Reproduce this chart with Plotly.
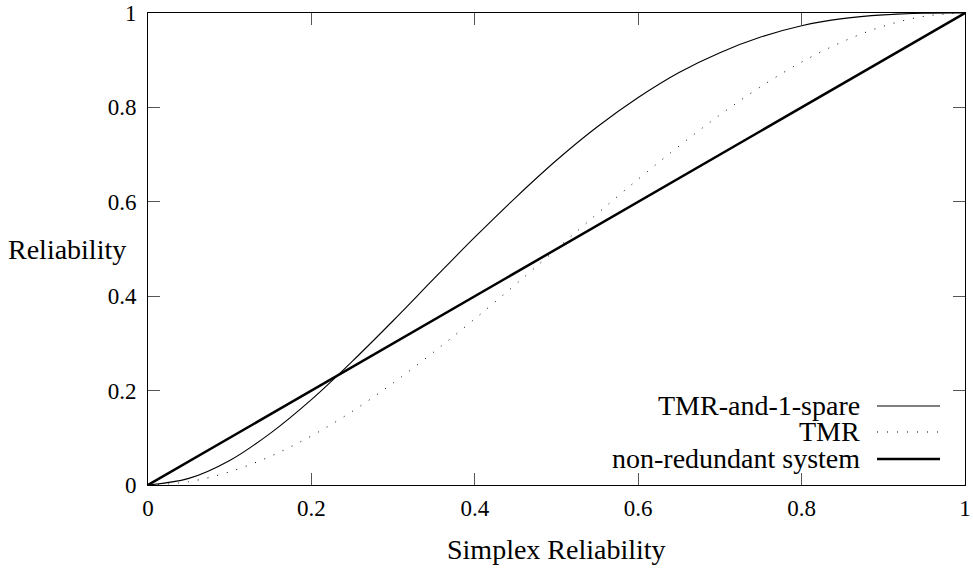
import plotly.graph_objects as go

# Simplex reliability (x) samples
simplex = [0.0, 0.05, 0.1, 0.15, 0.2, 0.25, 0.3, 0.35, 0.4, 0.45, 0.5,
           0.55, 0.6, 0.65, 0.7, 0.75, 0.8, 0.85, 0.9, 0.95, 1.0]
tmr_spare = [0.0, 0.014, 0.052, 0.110, 0.181, 0.262, 0.348, 0.437, 0.525, 0.609, 0.688,
             0.759, 0.821, 0.874, 0.916, 0.949, 0.973, 0.988, 0.996, 0.9995, 1.0]
tmr = [0.0, 0.007, 0.028, 0.061, 0.104, 0.156, 0.216, 0.282, 0.352, 0.425, 0.5,
       0.575, 0.648, 0.718, 0.784, 0.844, 0.896, 0.939, 0.972, 0.993, 1.0]
non_redundant = [0.0, 0.05, 0.1, 0.15, 0.2, 0.25, 0.3, 0.35, 0.4, 0.45, 0.5,
                 0.55, 0.6, 0.65, 0.7, 0.75, 0.8, 0.85, 0.9, 0.95, 1.0]

tick_vals = [0, 0.2, 0.4, 0.6, 0.8, 1]
tick_text = ["0", "0.2", "0.4", "0.6", "0.8", "1"]
legend_names = ["TMR-and-1-spare", "TMR", "non-redundant system"]

FONT = "Liberation Serif"
TICK_SIZE = 23
TEXT_SIZE = 28

fig = go.Figure()
fig.add_trace(go.Scatter(x=simplex, y=tmr_spare, mode="lines", line_shape="spline",
                         line=dict(color="black", width=1.1), name=legend_names[0]))
fig.add_trace(go.Scatter(x=simplex, y=tmr, mode="lines", line_shape="spline",
                         line=dict(color="black", width=1, dash="1px,9px"), name=legend_names[1]))
fig.add_trace(go.Scatter(x=simplex, y=non_redundant, mode="lines",
                         line=dict(color="black", width=2.5), name=legend_names[2]))

axis_common = dict(
    range=[0, 1], tickvals=tick_vals, ticktext=tick_text,
    ticks="inside", ticklen=12, tickwidth=1, tickcolor="#555",
    showline=True, linecolor="black", linewidth=1, mirror="allticks",
    showgrid=False, zeroline=False, automargin=False,
    ticklabeloverflow="allow",
    tickfont=dict(family=FONT, size=TICK_SIZE, color="black"),
)
fig.update_layout(
    width=973, height=568,
    margin=dict(l=148, r=8, t=13, b=83, autoexpand=False),
    paper_bgcolor="white", plot_bgcolor="white",
    showlegend=False,
    xaxis=dict(**axis_common, ticklabelstandoff=2),
    yaxis=dict(**axis_common, ticklabelstandoff=6),
    font=dict(family=FONT, size=TEXT_SIZE, color="black"),
)

# Axis titles
fig.add_annotation(text="Simplex Reliability", xref="paper", yref="paper",
                   x=0.5, y=0, yshift=-64, xanchor="center", yanchor="middle",
                   showarrow=False, font=dict(family=FONT, size=TEXT_SIZE))
fig.add_annotation(text="Reliability", xref="paper", yref="paper",
                   x=0, y=0.5, xshift=-20, xanchor="right", yanchor="middle",
                   showarrow=False, font=dict(family=FONT, size=TEXT_SIZE))

# Legend (text right-aligned, key on the right)
rows_y = [0.1674, 0.1123, 0.0551]
styles = [dict(color="black", width=1.1), dict(color="black", width=1, dash="1px,9px"),
          dict(color="black", width=2.5)]
for name, yy, st in zip(legend_names, rows_y, styles):
    fig.add_annotation(text=name, xref="paper", yref="paper", x=0.874, y=yy,
                       xanchor="right", yanchor="middle", showarrow=False,
                       font=dict(family=FONT, size=TEXT_SIZE))
    fig.add_shape(type="line", xref="paper", yref="paper", x0=0.8923, x1=0.9694,
                  y0=yy, y1=yy, line=st)

fig.write_html(
    "out.html",
    config={"displayModeBar": False},
    post_script="document.body.style.margin='0';document.body.style.overflow='hidden';",
)
